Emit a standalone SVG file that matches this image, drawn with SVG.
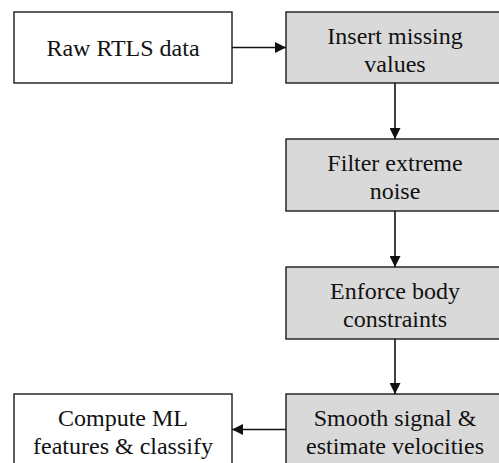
<svg xmlns="http://www.w3.org/2000/svg" width="499" height="463" viewBox="0 0 499 463">
  <style>
    .box { stroke: #1a1a1a; stroke-width: 1.4; }
    .plain { fill: #ffffff; }
    .step { fill: #d9d9d9; }
    .lbl { font-family: "Liberation Serif", "Times New Roman", serif; font-size: 24px; fill: #111; text-anchor: middle; }
    .edge { stroke: #111; stroke-width: 1.6; fill: none; marker-end: url(#arrow); }
  </style>
  <defs>
    <marker id="arrow" markerUnits="userSpaceOnUse" markerWidth="12" markerHeight="11" refX="11" refY="5.5" orient="auto">
      <path d="M0,0 L11,5.5 L0,11 Z" fill="#111"/>
    </marker>
  </defs>
  <rect width="499" height="463" fill="#ffffff"/>

  <g id="raw">
    <rect class="box plain" x="14" y="12" width="218" height="71"/>
    <text class="lbl" x="123" y="56">Raw RTLS data</text>
  </g>
  <g id="insert">
    <rect class="box step" x="286" y="12" width="218" height="71"/>
    <text class="lbl" x="395" y="43.5">Insert missing</text>
    <text class="lbl" x="395" y="71.5">values</text>
  </g>
  <g id="filter">
    <rect class="box step" x="286" y="139" width="218" height="72"/>
    <text class="lbl" x="395" y="170.5">Filter extreme</text>
    <text class="lbl" x="395" y="198.5">noise</text>
  </g>
  <g id="enforce">
    <rect class="box step" x="286" y="267" width="218" height="72"/>
    <text class="lbl" x="395" y="298.5">Enforce body</text>
    <text class="lbl" x="395" y="326.5">constraints</text>
  </g>
  <g id="smooth">
    <rect class="box step" x="286" y="394" width="218" height="72"/>
    <text class="lbl" x="395" y="425.5">Smooth signal &amp;</text>
    <text class="lbl" x="395" y="453.5">estimate velocities</text>
  </g>
  <g id="compute">
    <rect class="box plain" x="14" y="394" width="218" height="72"/>
    <text class="lbl" x="123" y="425.5">Compute ML</text>
    <text class="lbl" x="123" y="453.5">features &amp; classify</text>
  </g>

  <g id="connectors">
    <line class="edge" x1="232" y1="47.5" x2="286" y2="47.5"/>
    <line class="edge" x1="395" y1="83" x2="395" y2="139"/>
    <line class="edge" x1="395" y1="211" x2="395" y2="267"/>
    <line class="edge" x1="395" y1="339" x2="395" y2="394"/>
    <line class="edge" x1="286" y1="429.5" x2="232" y2="429.5"/>
  </g>
</svg>
